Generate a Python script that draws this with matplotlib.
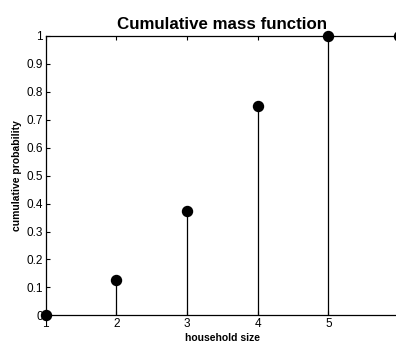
import matplotlib
matplotlib.use("Agg")
import matplotlib.pyplot as plt

# cumulative distribution of household size
sizes = [1, 2, 3, 4, 5, 6]
cum_prob = [0, 0.125, 0.375, 0.75, 1.0, 1.0]

plt.rcParams['font.family'] = ['Liberation Sans', 'DejaVu Sans']

fig = plt.figure(figsize=(3.96, 3.45), dpi=100)
# axes run past the right edge of the figure
ax = fig.add_axes([45.7/396, 1 - 315.3/345, 353.3/396, 279.3/345])

ax.vlines(sizes, 0, cum_prob, colors='black', linewidth=0.9, clip_on=False)
ax.plot(sizes, cum_prob, 'o', color='black', markersize=7.2, clip_on=False, zorder=3)

ax.set_xlim(1, 6)
ax.set_ylim(0, 1)
ax.set_xticks([1, 2, 3, 4, 5])
ax.set_yticks([0, 0.1, 0.2, 0.3, 0.4, 0.5, 0.6, 0.7, 0.8, 0.9, 1])
ax.set_yticklabels(['0', '0.1', '0.2', '0.3', '0.4', '0.5', '0.6', '0.7', '0.8', '0.9', '1'])
ax.tick_params(direction='in', top=True, right=False, labelsize=8.5, length=3, pad=2)

for s in ax.spines.values():
    s.set_linewidth(0.9)

ax.set_title('Cumulative mass function', fontsize=12.2, fontweight='bold', pad=5)
ax.set_xlabel('household size', fontsize=7.5, fontweight='bold', labelpad=2)
ax.set_ylabel('cumulative probability', fontsize=7.5, fontweight='bold', labelpad=3)

fig.savefig('out.png', dpi=100)
